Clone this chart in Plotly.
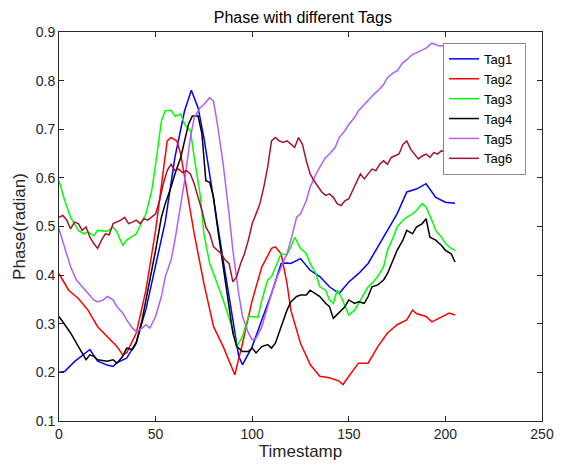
import plotly.graph_objects as go

tag1_x = [0, 3, 8, 12, 16, 20, 25, 28, 30, 35, 40, 45, 50, 55, 60, 65, 68.5, 72, 75, 80, 85, 90, 93, 95, 100, 105, 110, 115, 118, 120, 125, 130, 135, 140, 145, 150, 155, 160, 165, 170, 175, 180, 185, 190, 195, 200, 205]
tag1_y = [0.200, 0.202, 0.222, 0.235, 0.247, 0.223, 0.215, 0.212, 0.220, 0.229, 0.262, 0.330, 0.420, 0.510, 0.642, 0.738, 0.780, 0.744, 0.683, 0.553, 0.430, 0.308, 0.233, 0.216, 0.253, 0.308, 0.362, 0.424, 0.425, 0.424, 0.434, 0.410, 0.397, 0.376, 0.362, 0.386, 0.403, 0.424, 0.458, 0.492, 0.526, 0.571, 0.577, 0.588, 0.560, 0.550, 0.548]

tag2_x = [0, 5, 10, 15, 20, 25, 30, 33, 35, 40, 45, 50, 53, 56, 58, 61, 63, 65, 70, 75, 80, 85, 90, 91, 95, 100, 105, 110, 112, 115, 118, 120, 125, 130, 135, 140, 145, 147, 150, 155, 160, 165, 170, 175, 180, 183, 185, 190, 193, 195, 200, 202, 205]
tag2_y = [0.403, 0.369, 0.352, 0.328, 0.294, 0.274, 0.253, 0.236, 0.240, 0.281, 0.369, 0.492, 0.580, 0.676, 0.683, 0.676, 0.649, 0.601, 0.485, 0.383, 0.294, 0.253, 0.206, 0.195, 0.260, 0.348, 0.417, 0.455, 0.458, 0.444, 0.383, 0.328, 0.260, 0.216, 0.192, 0.189, 0.182, 0.175, 0.192, 0.219, 0.219, 0.253, 0.281, 0.298, 0.308, 0.328, 0.321, 0.315, 0.304, 0.308, 0.318, 0.322, 0.318]

tag3_x = [0, 3, 6, 10, 13, 15, 18, 20, 25, 28, 30, 33, 35, 40, 45, 48, 50, 53, 55, 58, 60, 63, 65, 68, 70, 73, 75, 78, 80, 85, 90, 92, 95, 98, 100, 103, 105, 108, 110, 113, 115, 118, 120, 122, 125, 128, 130, 133, 135, 138, 140, 142, 144, 146, 148, 150, 153, 155, 158, 160, 162, 165, 168, 170, 173, 175, 178, 180, 183, 185, 188, 190, 193, 195, 198, 200, 203, 205]
tag3_y = [0.594, 0.553, 0.519, 0.492, 0.485, 0.489, 0.481, 0.492, 0.490, 0.499, 0.489, 0.461, 0.472, 0.485, 0.526, 0.574, 0.628, 0.717, 0.738, 0.739, 0.727, 0.731, 0.710, 0.697, 0.642, 0.567, 0.485, 0.424, 0.403, 0.349, 0.287, 0.253, 0.274, 0.315, 0.315, 0.313, 0.349, 0.390, 0.397, 0.424, 0.444, 0.442, 0.458, 0.478, 0.455, 0.444, 0.424, 0.403, 0.376, 0.369, 0.349, 0.342, 0.369, 0.356, 0.335, 0.318, 0.328, 0.342, 0.362, 0.376, 0.383, 0.397, 0.417, 0.451, 0.478, 0.499, 0.513, 0.519, 0.526, 0.533, 0.547, 0.540, 0.513, 0.492, 0.478, 0.465, 0.455, 0.451]

tag4_x = [0, 3, 6, 9, 12, 14, 16, 18, 20, 23, 25, 28, 30, 33, 35, 38, 40, 43, 45, 48, 50, 53, 55, 58, 60, 63, 65, 67, 69, 72, 74, 76, 78, 80, 82, 85, 88, 90, 92, 95, 98, 100, 102, 105, 108, 110, 112, 115, 118, 120, 123, 125, 128, 130, 133, 135, 138, 140, 142, 145, 148, 150, 153, 155, 158, 160, 162, 165, 168, 170, 173, 175, 178, 180, 183, 185, 188, 190, 192, 195, 198, 200, 203, 205]
tag4_y = [0.315, 0.298, 0.281, 0.260, 0.240, 0.226, 0.236, 0.233, 0.226, 0.224, 0.223, 0.226, 0.219, 0.233, 0.250, 0.247, 0.260, 0.308, 0.349, 0.403, 0.451, 0.519, 0.547, 0.581, 0.608, 0.642, 0.676, 0.710, 0.727, 0.727, 0.690, 0.594, 0.591, 0.560, 0.499, 0.417, 0.335, 0.281, 0.253, 0.243, 0.243, 0.250, 0.240, 0.253, 0.257, 0.250, 0.260, 0.294, 0.328, 0.345, 0.356, 0.359, 0.359, 0.369, 0.362, 0.356, 0.342, 0.335, 0.311, 0.322, 0.335, 0.349, 0.342, 0.345, 0.342, 0.356, 0.376, 0.380, 0.390, 0.403, 0.431, 0.451, 0.472, 0.492, 0.485, 0.499, 0.506, 0.516, 0.478, 0.472, 0.461, 0.451, 0.444, 0.427]

tag5_x = [0, 3, 6, 9, 12, 15, 18, 20, 23, 25, 28, 30, 33, 35, 38, 40, 43, 45, 47, 50, 53, 55, 58, 60, 63, 65, 68, 70, 73, 75, 78, 80, 82, 85, 88, 90, 93, 95, 98, 100, 102, 105, 108, 110, 113, 115, 118, 120, 123, 125, 128, 130, 133, 135, 138, 140, 143, 145, 148, 150, 153, 155, 158, 160, 163, 165, 168, 170, 173, 175, 178, 180, 183, 185, 188, 190, 193, 195, 197, 200, 205]
tag5_y = [0.495, 0.458, 0.417, 0.390, 0.376, 0.362, 0.349, 0.345, 0.349, 0.356, 0.349, 0.335, 0.322, 0.308, 0.291, 0.284, 0.291, 0.298, 0.291, 0.315, 0.356, 0.397, 0.431, 0.472, 0.540, 0.594, 0.683, 0.724, 0.744, 0.751, 0.765, 0.758, 0.710, 0.628, 0.526, 0.451, 0.362, 0.315, 0.281, 0.267, 0.270, 0.294, 0.335, 0.362, 0.397, 0.417, 0.444, 0.472, 0.519, 0.526, 0.553, 0.581, 0.608, 0.622, 0.642, 0.649, 0.663, 0.683, 0.697, 0.710, 0.724, 0.738, 0.751, 0.758, 0.772, 0.779, 0.792, 0.806, 0.816, 0.820, 0.837, 0.843, 0.854, 0.857, 0.864, 0.867, 0.877, 0.874, 0.871, 0.872, 0.875]

tag6_x = [0, 2, 4, 6, 8, 10, 12, 14, 16, 18, 20, 22, 24, 26, 28, 30, 32, 34, 36, 38, 40, 42, 44, 46, 48, 50, 52, 54, 56, 58, 60, 62, 64, 66, 68, 70, 72, 74, 76, 78, 80, 82, 84, 86, 88, 90, 92, 94, 96, 98, 100, 102, 104, 106, 108, 110, 112, 114, 116, 118, 120, 122, 124, 126, 128, 130, 132, 134, 136, 138, 140, 142, 144, 146, 148, 150, 152, 154, 156, 158, 160, 162, 164, 166, 168, 170, 172, 174, 176, 178, 180, 182, 184, 186, 188, 190, 192, 194, 196, 198, 200, 205]
tag6_y = [0.519, 0.523, 0.513, 0.495, 0.509, 0.506, 0.492, 0.499, 0.478, 0.465, 0.455, 0.472, 0.485, 0.483, 0.506, 0.509, 0.513, 0.519, 0.506, 0.509, 0.513, 0.506, 0.516, 0.513, 0.519, 0.526, 0.553, 0.588, 0.615, 0.628, 0.615, 0.618, 0.611, 0.615, 0.608, 0.588, 0.560, 0.533, 0.499, 0.485, 0.458, 0.451, 0.444, 0.431, 0.424, 0.386, 0.397, 0.424, 0.444, 0.472, 0.506, 0.526, 0.547, 0.581, 0.622, 0.676, 0.683, 0.676, 0.673, 0.676, 0.669, 0.663, 0.683, 0.669, 0.635, 0.608, 0.594, 0.581, 0.571, 0.564, 0.567, 0.560, 0.547, 0.543, 0.553, 0.557, 0.574, 0.594, 0.608, 0.598, 0.608, 0.618, 0.615, 0.628, 0.635, 0.628, 0.642, 0.645, 0.649, 0.669, 0.676, 0.659, 0.649, 0.639, 0.645, 0.649, 0.642, 0.652, 0.649, 0.656, 0.652, 0.650]

series = [
    ("Tag1", tag1_x, tag1_y, "#0000FF"),
    ("Tag2", tag2_x, tag2_y, "#FF0000"),
    ("Tag3", tag3_x, tag3_y, "#00FF00"),
    ("Tag4", tag4_x, tag4_y, "#000000"),
    ("Tag5", tag5_x, tag5_y, "#B45EF5"),
    ("Tag6", tag6_x, tag6_y, "#A2142F"),
]

x_ticks = [0, 50, 100, 150, 200, 250]
y_ticks = [0.1, 0.2, 0.3, 0.4, 0.5, 0.6, 0.7, 0.8, 0.9]

fig = go.Figure()
for name, xs, ys, color in series:
    fig.add_trace(go.Scatter(x=xs, y=ys, mode="lines", name=name + "\u00a0\u00a0",
                             line=dict(color=color, width=1.5)))

axis_common = dict(showgrid=False, zeroline=False, showline=True, mirror="ticks",
                   linecolor="#262626", linewidth=1, ticks="inside", ticklen=5,
                   tickcolor="#262626", tickfont=dict(size=14, color="#262626"))

fig.update_layout(
    width=566, height=469,
    margin=dict(l=59, r=13, t=32, b=46),
    paper_bgcolor="white", plot_bgcolor="white",
    font=dict(family="Liberation Sans, Arial, sans-serif", color="#262626"),
    title=dict(text="Phase with different Tags", x=0.535, xanchor="center",
               y=0.962, yanchor="middle", font=dict(size=16, color="#000000")),
    xaxis=dict(range=[0, 250], tickvals=x_ticks, ticktext=[str(v) for v in x_ticks],
               title=dict(text="Timestamp", font=dict(size=17, color="#262626"), standoff=3),
               **axis_common),
    yaxis=dict(range=[0.1, 0.9], tickvals=y_ticks, ticktext=[f"{v:.1f}" for v in y_ticks],
               title=dict(text="Phase(radian)", font=dict(size=17, color="#262626"), standoff=5),
               **axis_common),
    legend=dict(x=0.795, y=0.972, xanchor="left", yanchor="top",
                bgcolor="white", bordercolor="#8c8c8c", borderwidth=1,
                font=dict(size=13, color="#000000"), tracegroupgap=0),
    showlegend=True,
)

fig.write_html("out.html")
